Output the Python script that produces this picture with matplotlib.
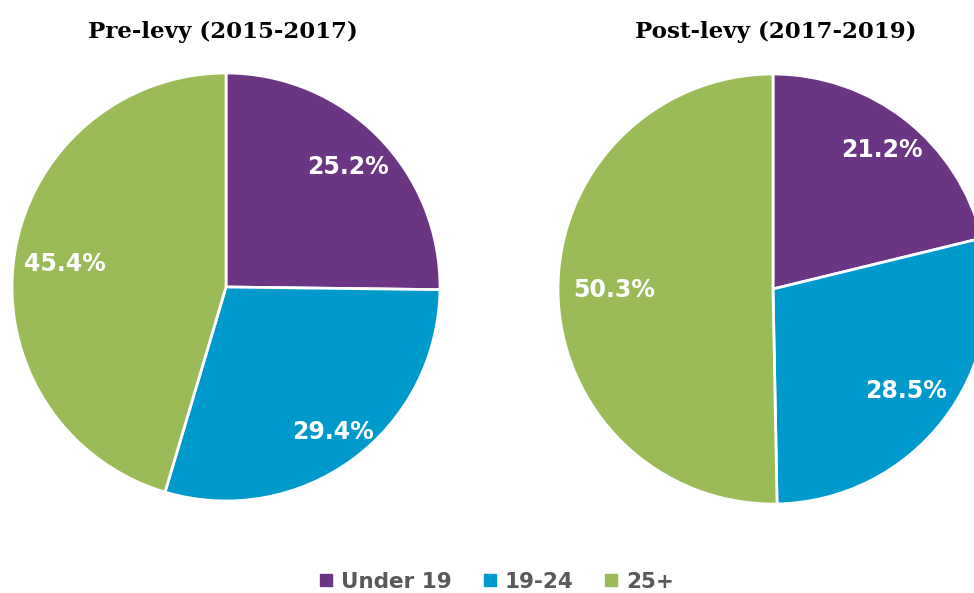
import numpy as np
import matplotlib.pyplot as plt
from matplotlib.lines import Line2D

# data
categories = ['Under 19', '19-24', '25+']
pre_levy = [25.2, 29.4, 45.4]
post_levy = [21.2, 28.5, 50.3]
titles = ['Pre-levy (2015-2017)', 'Post-levy (2017-2019)']
colors = ['#6B3583', '#0099CC', '#9BBB59']

# label distances from centre (fraction of radius), Excel "best fit"
pre_dist = [0.80, 0.84, 0.76]
post_dist = [0.82, 0.78, 0.74]

W, H = 974, 593
fig = plt.figure(figsize=(W / 100, H / 100), dpi=100)


def pie_axes(cx, cy, r):
    # axes box in pixels -> figure fraction
    return fig.add_axes([(cx - r) / W, (H - cy - r) / H, 2 * r / W, 2 * r / H])


def draw_pie(ax, vals, dists, title, title_x):
    wedges, _ = ax.pie(vals, colors=colors, startangle=90, counterclock=False,
                       wedgeprops=dict(edgecolor='white', linewidth=2))
    for w, v, d in zip(wedges, vals, dists):
        mid = np.deg2rad((w.theta1 + w.theta2) / 2)
        ax.text(d * np.cos(mid), d * np.sin(mid), f'{v:.1f}%',
                ha='center', va='center', color='white',
                fontsize=17, fontweight='bold', family='DejaVu Sans')
    ax.set_xlim(-1, 1)
    ax.set_ylim(-1, 1)
    ax.set_aspect('equal')
    ax.axis('off')
    fig.text(title_x / W, 1 - 32 / H, title, ha='center', va='center',
             fontsize=16.5, fontweight='bold', family='DejaVu Serif')
    return wedges


ax1 = pie_axes(226, 287, 214)
draw_pie(ax1, pre_levy, pre_dist, titles[0], 223)

ax2 = pie_axes(773, 289, 215)
draw_pie(ax2, post_levy, post_dist, titles[1], 776)

handles = [Line2D([], [], marker='s', linestyle='none', markersize=8,
                  markerfacecolor=c, markeredgecolor=c) for c in colors]
fig.legend(handles, categories, loc='center', bbox_to_anchor=(497 / W, 11 / H),
           ncol=3, frameon=False, handlelength=0.6, handletextpad=0.4,
           columnspacing=1.45,
           prop=dict(family='DejaVu Sans', weight='bold', size=15.5),
           labelcolor='#595959')

fig.savefig('out.png', dpi=100)
